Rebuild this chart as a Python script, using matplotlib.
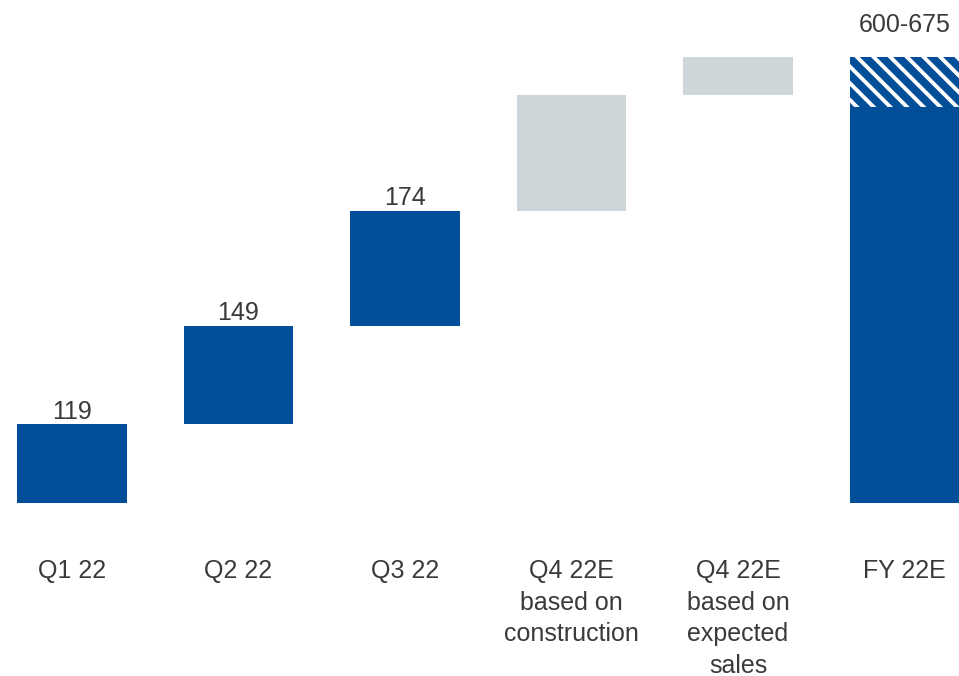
import numpy as np
import matplotlib
matplotlib.use("Agg")
import matplotlib.pyplot as plt

plt.rcParams['font.family'] = ['Liberation Sans', 'DejaVu Sans']
plt.rcParams['hatch.linewidth'] = 2.8

categories = ["Q1 22", "Q2 22", "Q3 22", "Q4 22E\nbased on\nconstruction",
              "Q4 22E\nbased on\nexpected\nsales", "FY 22E"]
quarter_values = [119, 149, 174]
q4_construction = 176
q4_expected_sales = 57
fy_low = 600
fy_high = 675

BLUE = "#024e98"
GRAY = "#cfd6da"
TEXT = "#3a3a3a"

fig = plt.figure(figsize=(9.59, 6.76), dpi=100)
ax = fig.add_axes([0, 0, 1, 1])
ax.set_xlim(-0.432, 5.327)
ax.set_ylim(-261.8, 761.3)
ax.axis("off")

width = 0.66
x = np.arange(len(categories))

# Actual quarters: stacked waterfall steps
bottoms = np.concatenate([[0], np.cumsum(quarter_values)[:-1]])
ax.bar(x[:3], quarter_values, bottom=bottoms, width=width, color=BLUE, linewidth=0)
for xi, b, v in zip(x[:3], bottoms, quarter_values):
    ax.text(xi, b + v + 1, f"{v}", ha="center", va="bottom", fontsize=18, color=TEXT)

# Q4 estimates
base_q4 = sum(quarter_values)
ax.bar(x[3], q4_construction, bottom=base_q4, width=width, color=GRAY, linewidth=0)
ax.bar(x[4], q4_expected_sales, bottom=base_q4 + q4_construction, width=width,
       color=GRAY, linewidth=0)

# Full-year range
ax.bar(x[5], fy_low, width=width, color=BLUE, linewidth=0)
ax.bar(x[5], fy_high - fy_low, bottom=fy_low, width=width, color=BLUE,
       edgecolor="white", linewidth=0, hatch="\\\\")
ax.text(x[5], fy_high + 31, f"{fy_low}-{fy_high}", ha="center", va="bottom",
        fontsize=18, color=TEXT)

# Category labels below the baseline
for xi, lab in zip(x, categories):
    ax.text(xi, -84, lab, ha="center", va="top", fontsize=18, color=TEXT,
            linespacing=1.42)

fig.savefig("out.png", dpi=100)
